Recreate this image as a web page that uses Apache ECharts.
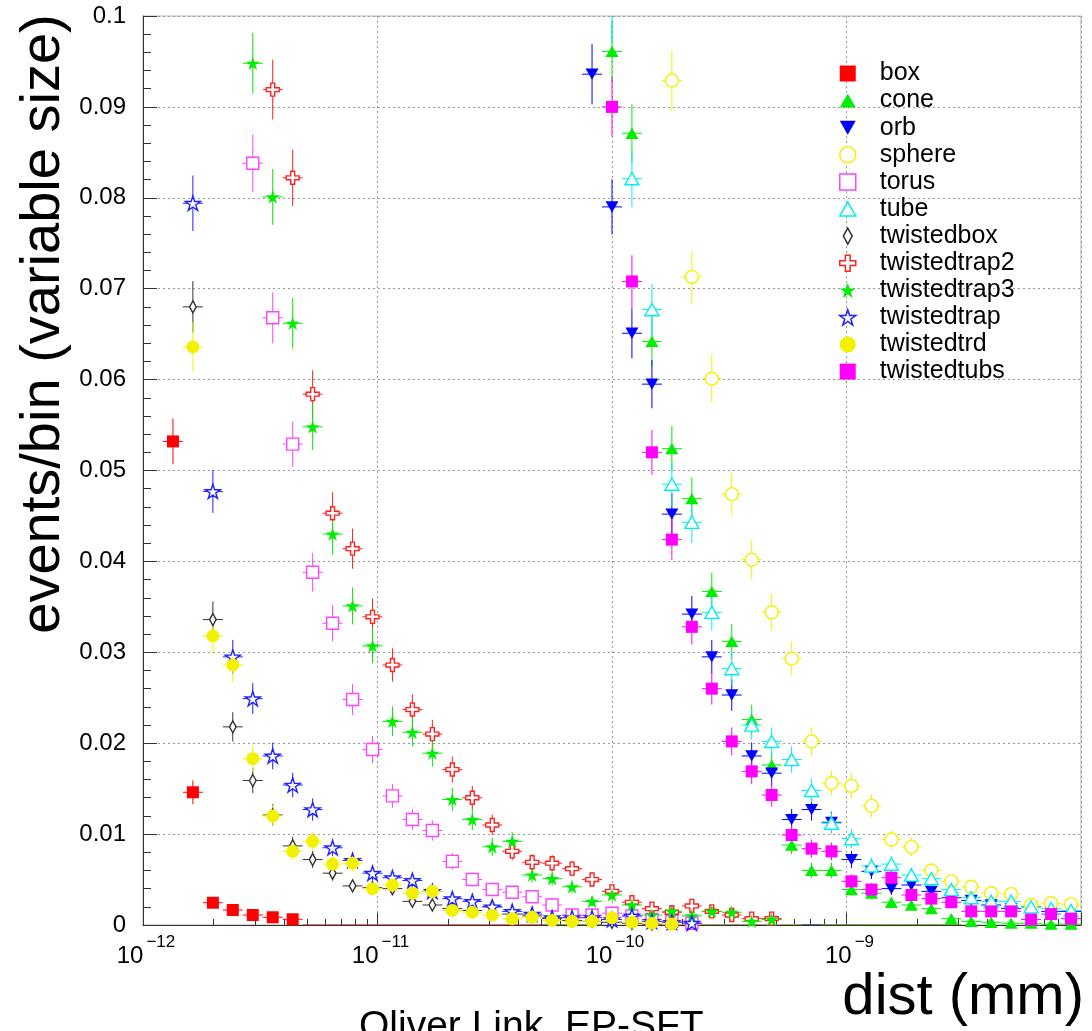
<!DOCTYPE html>
<html>
<head>
<meta charset="utf-8">
<script src="https://cdn.jsdelivr.net/npm/echarts@6.0.0/dist/echarts.min.js"></script>
<style>
html,body{margin:0;padding:0;background:#fff;}
#chart{width:1092px;height:1031px;}
</style>
</head>
<body>
<div id="chart"></div>
<script>
// ---------------- DATA ----------------
// log-spaced bin centres of dist (mm), 47 bins from 1e-12 to 1e-8
const binCenters = [
  1.103e-12, 1.342e-12, 1.632e-12, 1.986e-12, 2.415e-12, 2.938e-12, 3.574e-12, 4.348e-12,
  5.289e-12, 6.434e-12, 7.827e-12, 9.522e-12,
  1.158e-11, 1.409e-11, 1.714e-11, 2.085e-11, 2.537e-11, 3.086e-11, 3.754e-11, 4.566e-11,
  5.555e-11, 6.758e-11, 8.220e-11,
  1.000e-10, 1.216e-10, 1.480e-10, 1.800e-10, 2.190e-10, 2.664e-10, 3.241e-10, 3.942e-10,
  4.796e-10, 5.834e-10, 7.097e-10, 8.633e-10,
  1.050e-9, 1.278e-9, 1.554e-9, 1.891e-9, 2.300e-9, 2.798e-9, 3.403e-9, 4.140e-9,
  5.036e-9, 6.127e-9, 7.453e-9, 9.067e-9
];

const seriesNames = ['box','cone','orb','sphere','torus','tube','twistedbox',
  'twistedtrap2','twistedtrap3','twistedtrap','twistedtrd','twistedtubs'];

// first bin index of each series, then its values (events/bin)
const boxStart = 1;
const boxValues = [0.0532, 0.0146, 0.00245, 0.00165, 0.0011, 0.00085, 0.00063,
  0, 0, 0, 0, 0, 0, 0, 0, 0, 0, 0, 0, 0, 0, 0];

const coneStart = 20;
const coneValues = [0, 0, 0, 0.0961, 0.0871, 0.0642, 0.0524, 0.0469, 0.0367, 0.0312, 0.0226,
  0.0176, 0.0088, 0.0060, 0.0060, 0.0039, 0.0035, 0.0025, 0.0022, 0.0018, 0.0007, 0.0004,
  0.0003, 0.0002, 0.0002, 0.0001, 0.0001];

const orbStart = 22;
const orbValues = [0.0936, 0.0790, 0.0651, 0.0595, 0.0452, 0.0342, 0.0295, 0.0253, 0.0186,
  0.0167, 0.0116, 0.0127, 0.0113, 0.0072, 0.0059, 0.0040, 0.0044, 0.0037, 0.0030, 0.0027,
  0.0022, 0.0018, 0.0020, 0.0015, 0.0015];

const sphereStart = 26;
const sphereValues = [0.0929, 0.0713, 0.0601, 0.0474, 0.0402, 0.0344, 0.0293, 0.0202, 0.0156,
  0.0153, 0.0131, 0.0094, 0.0086, 0.0060, 0.0048, 0.0042, 0.0035, 0.0034, 0.0022, 0.0024, 0.0023];

const torusStart = 5;
const torusValues = [0.0838, 0.0668, 0.0529, 0.0388, 0.0332, 0.0248, 0.0193, 0.0142, 0.0116,
  0.0104, 0.0070, 0.0050, 0.0039, 0.0036, 0.0031, 0.0022, 0.0011, 0.0011, 0.0013, 0.0010,
  0.0006, 0.0004, 0.0002, 0, 0, 0, 0, 0, 0, 0, 0];

const tubeStart = 23;
const tubeValues = [0.1005, 0.0821, 0.0677, 0.0485, 0.0443, 0.0344, 0.0282, 0.0220, 0.0202,
  0.0182, 0.0148, 0.0112, 0.0095, 0.0065, 0.0067, 0.0055, 0.0051, 0.0039, 0.0030, 0.0026,
  0.0026, 0.0020, 0.0018, 0.0016];

const twistedboxStart = 2;
const twistedboxValues = [0.0680, 0.0336, 0.0218, 0.0159, 0.0121, 0.0087, 0.0072, 0.0057,
  0.0043, 0.0041, 0.0040, 0.0026, 0.0022, 0.0018, 0.0016, 0.0020, 0.0012, 0.0010, 0.0007,
  0.0005, 0.0004, 0.0003, 0.0002, 0.0001, 0, 0, 0, 0, 0];

const twistedtrap2Start = 6;
const twistedtrap2Values = [0.0919, 0.0822, 0.0584, 0.0453, 0.0414, 0.0339, 0.0286, 0.0237,
  0.0210, 0.0171, 0.0140, 0.0110, 0.0081, 0.0069, 0.0068, 0.0062, 0.0050, 0.0037, 0.0025,
  0.0018, 0.0014, 0.0021, 0.0015, 0.0011, 0.0007, 0.0007, 0, 0, 0, 0, 0, 0, 0, 0, 0];

const twistedtrap3Start = 5;
const twistedtrap3Values = [0.0948, 0.0801, 0.0662, 0.0548, 0.0430, 0.0351, 0.0307, 0.0224,
  0.0212, 0.0189, 0.0138, 0.0116, 0.0086, 0.0092, 0.0055, 0.0051, 0.0042, 0.0026, 0.0033,
  0.0022, 0.0011, 0.0015, 0.0010, 0.0015, 0.0014, 0.0004, 0.0006, 0, 0, 0, 0, 0, 0, 0, 0, 0];

const twistedtrapStart = 2;
const twistedtrapValues = [0.0794, 0.0477, 0.0295, 0.0249, 0.0186, 0.0154, 0.0127, 0.0085,
  0.0071, 0.0057, 0.0052, 0.0049, 0.0037, 0.0029, 0.0026, 0.0020, 0.0015, 0.0012, 0.0008,
  0.0008, 0.0008, 0.0006, 0.0010, 0.0004, 0.0003, 0.0002, 0, 0, 0, 0, 0, 0];

const twistedtrdStart = 2;
const twistedtrdValues = [0.0636, 0.0318, 0.0286, 0.0183, 0.0120, 0.0081, 0.0092, 0.0067,
  0.0068, 0.0040, 0.0044, 0.0035, 0.0037, 0.0016, 0.0014, 0.0011, 0.0007, 0.00085, 0.0005,
  0.0004, 0.0004, 0.0008, 0.0003, 0.0002, 0.0001, 0, 0, 0, 0, 0, 0];

const twistedtubsStart = 23;
const twistedtubsValues = [0.0900, 0.0708, 0.0520, 0.0424, 0.0328, 0.0260, 0.0202, 0.0169,
  0.0143, 0.0099, 0.0084, 0.0081, 0.0048, 0.0039, 0.0052, 0.0033, 0.0029, 0.0025, 0.0015,
  0.0015, 0.0015, 0.0006, 0.0012, 0.0007];

// statistics behind the error bars (entries per histogram)
const ENTRIES = 8500;

// axis tick labels
const xLabelValues = [1e-12, 1e-11, 1e-10, 1e-9];
const xMinorTickValues = [
  2e-12, 3e-12, 4e-12, 5e-12, 6e-12, 7e-12, 8e-12, 9e-12,
  2e-11, 3e-11, 4e-11, 5e-11, 6e-11, 7e-11, 8e-11, 9e-11,
  2e-10, 3e-10, 4e-10, 5e-10, 6e-10, 7e-10, 8e-10, 9e-10,
  2e-9, 3e-9, 4e-9, 5e-9, 6e-9, 7e-9, 8e-9, 9e-9
];

// ---------------- STYLES ----------------
const FONT = '"Liberation Sans", Arial, Helvetica, sans-serif';
const STAR = 'path://M0,-1L0.2245,-0.309L0.951,-0.309L0.363,0.118L0.588,0.809L0,0.382L-0.588,0.809L-0.363,0.118L-0.951,-0.309L-0.2245,-0.309Z';
const CROSS = 'path://M-0.3,-1L0.3,-1L0.3,-0.3L1,-0.3L1,0.3L0.3,0.3L0.3,1L-0.3,1L-0.3,0.3L-1,0.3L-1,-0.3L-0.3,-0.3Z';
const DIAMOND = 'path://M0,-1L0.55,0L0,1L-0.55,0Z';
const DOWNTRI = 'path://M-1,-0.87L1,-0.87L0,0.87Z';
const UPTRI = 'path://M-1,0.87L1,0.87L0,-0.87Z';

const styles = {
  box:          {color:'#ff0000', symbol:'rect',   size:12, open:false},
  cone:         {color:'#00ee00', symbol:UPTRI,    size:13, open:false},
  orb:          {color:'#0000ff', symbol:DOWNTRI,  size:13, open:false},
  sphere:       {color:'#f2f200', symbol:'circle', size:13, open:true},
  torus:        {color:'#ff44ff', symbol:'rect',   size:12, open:true},
  tube:         {color:'#00f0f0', symbol:UPTRI,    size:14, open:true},
  twistedbox:   {color:'#333333', symbol:DIAMOND,  size:12, open:true},
  twistedtrap2: {color:'#ff2020', symbol:CROSS,    size:13, open:true},
  twistedtrap3: {color:'#00ee00', symbol:STAR,     size:14, open:false},
  twistedtrap:  {color:'#2020ff', symbol:STAR,     size:15, open:true},
  twistedtrd:   {color:'#f2f200', symbol:'circle', size:13, open:false},
  twistedtubs:  {color:'#ff00ff', symbol:'rect',   size:12, open:false}
};

const dataSets = {
  box:[boxStart, boxValues], cone:[coneStart, coneValues], orb:[orbStart, orbValues],
  sphere:[sphereStart, sphereValues], torus:[torusStart, torusValues], tube:[tubeStart, tubeValues],
  twistedbox:[twistedboxStart, twistedboxValues], twistedtrap2:[twistedtrap2Start, twistedtrap2Values],
  twistedtrap3:[twistedtrap3Start, twistedtrap3Values], twistedtrap:[twistedtrapStart, twistedtrapValues],
  twistedtrd:[twistedtrdStart, twistedtrdValues], twistedtubs:[twistedtubsStart, twistedtubsValues]
};

// bin edges (geometric midpoints between neighbouring centres)
function binLow(k){ return k > 0 ? Math.sqrt(binCenters[k-1]*binCenters[k]) : binCenters[0]*binCenters[0]/Math.sqrt(binCenters[0]*binCenters[1]); }
function binHigh(k){ return k < binCenters.length-1 ? Math.sqrt(binCenters[k]*binCenters[k+1]) : binCenters[k]*binCenters[k]/Math.sqrt(binCenters[k-1]*binCenters[k]); }

function itemStyleFor(st){
  return st.open
    ? {color:'#ffffff', borderColor:st.color, borderWidth:1.4, opacity:1}
    : {color:st.color, borderWidth:0, opacity:1};
}

const series = [];
seriesNames.forEach(function(name){
  const st = styles[name];
  const start = dataSets[name][0], vals = dataSets[name][1];
  const errData = [], ptData = [];
  vals.forEach(function(v, i){
    const k = start + i;
    errData.push([binCenters[k], v, k]);
    if (v > 0) ptData.push([binCenters[k], v]);
  });
  series.push({
    type:'custom', name:name + ' errors', silent:true, clip:true,
    data:errData, encode:{x:0, y:1},
    renderItem:function(params, api){
      const x = api.value(0), y = api.value(1), k = api.value(2);
      const err = Math.sqrt(y / ENTRIES);
      const c = api.coord([x, y]);
      const top = api.coord([x, y + err]);
      const bot = api.coord([x, Math.max(y - err, 0)]);
      const l = api.coord([binLow(k), y]);
      const r = api.coord([binHigh(k), y]);
      const children = [
        {type:'line', shape:{x1:l[0], y1:c[1], x2:r[0], y2:c[1]}, style:{stroke:st.color, lineWidth:1}}
      ];
      if (err > 0) children.push({type:'line', shape:{x1:c[0], y1:top[1], x2:c[0], y2:bot[1]}, style:{stroke:st.color, lineWidth:1}});
      return {type:'group', children:children};
    }
  });
  series.push({
    type:'scatter', name:name, clip:true,
    symbol:st.symbol, symbolSize:st.size, symbolKeepAspect:true,
    itemStyle:itemStyleFor(st),
    emphasis:{disabled:true},
    data:ptData
  });
});

const legendData = seriesNames.map(function(name){
  const st = styles[name];
  return {name:name, icon:st.symbol,
    itemStyle: st.open ? {color:'#ffffff', borderColor:st.color, borderWidth:1.5}
                       : {color:st.color, borderWidth:0}};
});

const chart = echarts.init(document.getElementById('chart'), null, {renderer:'canvas'});
chart.setOption({
  animation:false,
  backgroundColor:'#ffffff',
  textStyle:{fontFamily:FONT},
  grid:{left:143, right:11, top:16, bottom:106, show:true, borderColor:'#b0b0b0', borderWidth:1, containLabel:false},
  legend:{
    orient:'vertical', left:839, top:61, padding:0, itemGap:2.1,
    itemWidth:16, itemHeight:16, selectedMode:false,
    textStyle:{fontSize:25, fontFamily:FONT, color:'#000', lineHeight:24, padding:[0,0,0,19]},
    data:legendData
  },
  xAxis:[{
    type:'log', logBase:10, min:1e-12, max:1e-8,
    axisLine:{show:true, onZero:false, lineStyle:{color:'#333', width:1}},
    axisTick:{show:true, inside:true, length:12, lineStyle:{color:'#333'}},
    splitLine:{show:true, lineStyle:{color:'#999', type:[2,3], width:1}},
    axisLabel:{
      show:true, customValues:xLabelValues, margin:9, verticalAlign:'top', padding:[0,0,0,6],
      formatter:function(v){ const e = Math.round(Math.log10(v)); return '{b|10}{s|\u2212' + (-e) + '}'; },
      rich:{
        b:{fontSize:24, fontFamily:FONT, color:'#000', lineHeight:34, verticalAlign:'bottom'},
        s:{fontSize:17, fontFamily:FONT, color:'#000', lineHeight:17, verticalAlign:'top', padding:[0,0,0,3]}
      }
    }
  },{
    type:'log', logBase:10, min:1e-12, max:1e-8, position:'bottom',
    axisLine:{show:false}, splitLine:{show:false}, axisLabel:{show:false},
    axisTick:{show:true, inside:true, length:6, customValues:xMinorTickValues, lineStyle:{color:'#333'}}
  }],
  yAxis:{
    type:'value', min:0, max:0.1, interval:0.01,
    axisLine:{show:true, onZero:false, lineStyle:{color:'#333', width:1}},
    axisTick:{show:true, inside:true, length:14, lineStyle:{color:'#333'}},
    minorTick:{show:true, splitNumber:5, length:8, lineStyle:{color:'#333'}},
    splitLine:{show:true, lineStyle:{color:'#999', type:[2,3], width:1}},
    axisLabel:{
      margin:17, fontSize:24, fontFamily:FONT, color:'#000',
      formatter:function(v){ return v === 0 ? '0' : String(+v.toFixed(2)); }
    }
  },
  graphic:[
    {type:'text', x:44, y:324, rotation:Math.PI/2, silent:true,
     style:{text:'events/bin (variable size)', fontSize:56, fontFamily:FONT, fill:'#000', align:'center', verticalAlign:'middle'}},
    {type:'text', x:1084, y:1027, silent:true,
     style:{text:'dist (mm)', fontSize:58, fontFamily:FONT, fill:'#000', align:'right', verticalAlign:'bottom'}},
    {type:'text', x:359, y:1008, silent:true,
     style:{text:'Oliver Link, EP-SFT', fontSize:39, fontFamily:FONT, fill:'#000', align:'left', verticalAlign:'top'}}
  ],
  series:series
});
</script>
</body>
</html>
